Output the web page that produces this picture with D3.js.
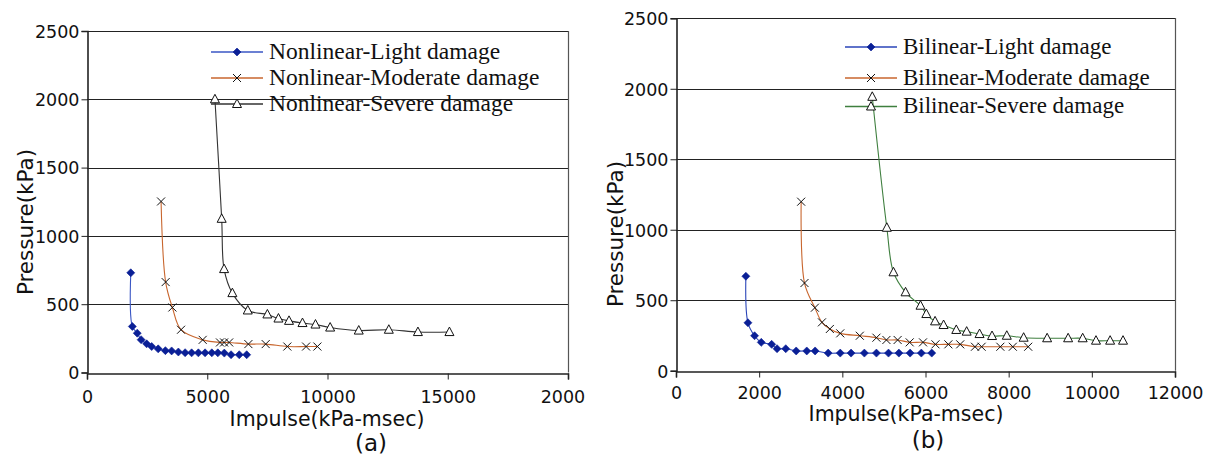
<!DOCTYPE html>
<html>
<head>
<meta charset="utf-8">
<script src="https://cdn.jsdelivr.net/npm/d3@7"></script>
<style>
  body { margin: 0; background: #fff; }
  svg { display: block; }
</style>
</head>
<body>
<script>
// pressure-impulse curves, values
var nonlinearLight = [[1820,730],[1885,337],[2090,288],[2250,240],[2480,210],[2690,190],[2960,173],[3260,160],[3520,158],[3800,150],
  [4080,145],[4350,144],[4630,144],[4910,144],[5190,144],[5440,144],[5710,142],[5990,130],[6330,130],[6640,130]];
var nonlinearModerate = [[3080,1252],[3270,662],[3550,476],[3910,313],[4810,239],[5530,220],[5700,220],[5910,220],[6710,208],
  [7430,208],[8330,190],[9110,190],[9580,190]];
var nonlinearSevere = [[5320,2000],[5600,1125],[5700,757],[6045,581],[6685,454],[7500,425],[7960,395],[8400,378],[8960,362],
  [9500,351],[10110,329],[11300,307],[12550,313],[13760,296],[15070,296]];

var bilinearLight = [[1680,670],[1730,340],[1890,248],[2050,201],[2300,187],[2430,156],[2640,156],[2890,140],[3145,140],[3345,140],
  [3660,125],[3950,125],[4210,125],[4530,125],[4820,125],[5110,125],[5360,125],[5630,125],[5900,125],[6150,125]];
var bilinearModerate = [[3010,1199],[3090,622],[3340,447],[3510,343],[3700,296],[3950,265],[4420,248],[4820,234],[5060,218],
  [5330,218],[5620,201],[5940,201],[6240,187],[6550,187],[6835,187],[7190,170],[7350,170],[7800,170],[8100,170],[8470,170]];
var bilinearSevere = [[4720,1943],[5070,1014],[5230,698],[5520,556],[5880,461],[6020,402],[6230,350],[6435,324],[6740,289],
  [6990,277],[7300,260],[7600,246],[7955,248],[8360,234],[8925,230],[9430,230],[9780,230],[10100,213],[10440,213],[10750,213]];

var yTicks = [0, 500, 1000, 1500, 2000, 2500];
var xTicksA = [0, 5000, 10000, 15000, 20000];
var xTicksB = [0, 2000, 4000, 6000, 8000, 10000, 12000];

var W = 1220, H = 456;
var svg = d3.select("body").append("svg").attr("width", W).attr("height", H);

svg.append("defs").append("clipPath").attr("id", "clipA")
  .append("rect").attr("x", 0).attr("y", 0).attr("width", 585).attr("height", H);

var sans = "'DejaVu Sans', sans-serif";
var serif = "'Liberation Serif', 'Times New Roman', serif";

function marker(g, type, color) {
  if (type == "diamond") {
    g.append("path").attr("d", "M0,-4L4,0L0,4L-4,0Z").attr("fill", color).attr("stroke", color).attr("stroke-width", 0.6);
  } else if (type == "x") {
    g.append("path").attr("d", "M-4,-4L4,4M-4,4L4,-4").attr("fill", "none").attr("stroke", "#111").attr("stroke-width", 1);
  } else {
    g.append("path").attr("d", "M0,-5L4.5,3.5L-4.5,3.5Z").attr("fill", "#fff").attr("stroke", "#111").attr("stroke-width", 1);
  }
}

function drawChart(cfg) {
  var root = svg.append("g");
  if (cfg.clip) root.attr("clip-path", "url(#" + cfg.clip + ")");

  var x = d3.scaleLinear().domain([0, cfg.xMax]).range([cfg.left, cfg.right]);
  var y = d3.scaleLinear().domain([0, 2500]).range([cfg.bottom, cfg.top]);

  // gridlines
  root.selectAll(".grid").data(yTicks.slice(1)).enter().append("line")
    .attr("x1", cfg.left).attr("x2", cfg.right)
    .attr("y1", function(d) { return Math.round(y(d)) + 0.5; })
    .attr("y2", function(d) { return Math.round(y(d)) + 0.5; })
    .attr("stroke", "#222").attr("stroke-width", 1);

  // right frame
  root.append("line")
    .attr("x1", cfg.right + 0.5).attr("x2", cfg.right + 0.5)
    .attr("y1", Math.round(cfg.top)).attr("y2", cfg.bottom)
    .attr("stroke", "#555").attr("stroke-width", 1.2);

  // axes
  var yAxis = d3.axisLeft(y).tickValues(yTicks).tickSize(6).tickPadding(2).tickFormat(d3.format("d"));
  var ya = root.append("g").attr("transform", "translate(" + (Math.round(cfg.left) + 0.5) + ",0)").call(yAxis);
  var xAxis = d3.axisBottom(x).tickValues(cfg.xTicks).tickSize(6).tickPadding(0).tickFormat(d3.format("d"));
  var xa = root.append("g").attr("transform", "translate(0," + (Math.round(cfg.bottom) + 0.5) + ")").call(xAxis);
  [ya, xa].forEach(function(a) {
    a.select(".domain").attr("stroke", "#222").attr("stroke-width", 1.6);
    a.selectAll(".tick line").attr("stroke", "#222");
    a.selectAll("text").attr("fill", "#111").style("font-family", sans).style("font-size", "17.5px");
  });
  ya.selectAll(".tick text").attr("dy", "0.36em");
  xa.selectAll(".tick text").attr("dy", null).attr("y", cfg.tickBase - cfg.bottom);

  // series
  var line = d3.line()
    .x(function(d) { return x(d[0]); })
    .y(function(d) { return y(d[1]); })
    .curve(d3.curveCatmullRom.alpha(0.5));

  cfg.series.forEach(function(s) {
    root.append("path").datum(s.data).attr("d", line)
      .attr("fill", "none").attr("stroke", s.line).attr("stroke-width", 1.1);
  });
  cfg.series.forEach(function(s) {
    s.data.forEach(function(d) {
      var g = root.append("g").attr("transform", "translate(" + x(d[0]) + "," + y(d[1]) + ")");
      marker(g, s.mark, s.fill);
    });
  });

  // legend
  cfg.series.forEach(function(s, i) {
    var ly = cfg.legY[i];
    root.append("line").attr("x1", cfg.legX).attr("x2", cfg.legX + 52)
      .attr("y1", ly).attr("y2", ly).attr("stroke", s.line).attr("stroke-width", 1.3);
    var g = root.append("g").attr("transform", "translate(" + (cfg.legX + 26) + "," + ly + ")");
    marker(g, s.mark, s.fill);
    root.append("text").attr("x", cfg.legX + 58).attr("y", ly + 6.5)
      .style("font-family", serif).style("font-size", cfg.legSize + "px").attr("fill", "#111")
      .text(s.name);
  });

  // titles
  root.append("text")
    .attr("transform", "translate(" + cfg.yTitleX + "," + cfg.yTitleY + ") rotate(-90)")
    .attr("text-anchor", "middle")
    .style("font-family", sans).style("font-size", "21.5px").attr("fill", "#111")
    .text("Pressure(kPa)");
  root.append("text").attr("x", cfg.xTitleX).attr("y", cfg.xTitleY)
    .attr("text-anchor", "middle")
    .style("font-family", sans).style("font-size", "20.5px").attr("fill", "#111")
    .text("Impulse(kPa-msec)");
  root.append("text").attr("x", cfg.tagX).attr("y", cfg.tagY)
    .attr("text-anchor", "middle")
    .style("font-family", sans).style("font-size", "23px").attr("fill", "#111")
    .text(cfg.tag);
}

drawChart({
  clip: "clipA",
  left: 87, right: 568, top: 31, bottom: 372.5, xMax: 20000, xTicks: xTicksA,
  tickBase: 402,
  legX: 211, legY: [52, 78, 104], legSize: 23.5,
  yTitleX: 33, yTitleY: 222, xTitleX: 327, xTitleY: 426, tagX: 371, tagY: 451, tag: "(a)",
  series: [
    {name: "Nonlinear-Light damage", data: nonlinearLight, line: "#3a56c4", fill: "#0a1f96", mark: "diamond"},
    {name: "Nonlinear-Moderate damage", data: nonlinearModerate, line: "#c8662e", fill: "#111", mark: "x"},
    {name: "Nonlinear-Severe damage", data: nonlinearSevere, line: "#333", fill: "#fff", mark: "tri"}
  ]
});

drawChart({
  left: 676, right: 1175, top: 18.3, bottom: 370.7, xMax: 12000, xTicks: xTicksB,
  tickBase: 398,
  legX: 845, legY: [47, 78, 106.5], legSize: 23,
  yTitleX: 623, yTitleY: 234, xTitleX: 906, xTitleY: 421, tagX: 928, tagY: 448, tag: "(b)",
  series: [
    {name: "Bilinear-Light damage", data: bilinearLight, line: "#2a45b8", fill: "#0a1f96", mark: "diamond"},
    {name: "Bilinear-Moderate damage", data: bilinearModerate, line: "#c8662e", fill: "#111", mark: "x"},
    {name: "Bilinear-Severe damage", data: bilinearSevere, line: "#3f7f3f", fill: "#fff", mark: "tri"}
  ]
});
</script>
</body>
</html>
